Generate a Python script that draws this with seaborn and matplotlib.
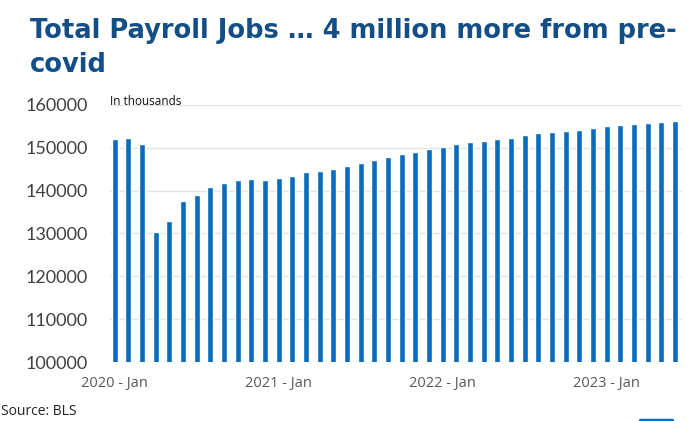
import matplotlib
matplotlib.use("Agg")
import matplotlib.pyplot as plt
import seaborn as sns
import pandas as pd
import numpy as np

years = [2020, 2021, 2022, 2023]
month_names = ["Jan", "Feb", "Mar", "Apr", "May", "Jun", "Jul", "Aug", "Sep", "Oct", "Nov", "Dec"]
months = [f"{y} - {m}" for y in years for m in month_names][:42]

jobs = [152030, 152260, 150930, 130370, 132940, 137540, 138940, 140720, 141660, 142450,
        142690, 142450, 142920, 143460, 144320, 144630, 145020, 145720, 146500, 147130,
        147760, 148550, 149070, 149700, 150070, 150930, 151400, 151640, 152030, 152340,
        152970, 153340, 153580, 153970, 154210, 154500, 154980, 155210, 155530, 155680,
        156000, 156150]

tick_labels = ["2020 - Jan", "2021 - Jan", "2022 - Jan", "2023 - Jan"]
y_ticks = [100000, 110000, 120000, 130000, 140000, 150000, 160000]

df = pd.DataFrame({"month": months, "jobs": jobs})

sns.set_theme(style="white")
plt.rcParams["font.family"] = ["Open Sans", "DejaVu Sans"]

fig = plt.figure(figsize=(7, 4.21), dpi=100)
ax = fig.add_axes([0.157, 0.140, 0.817, 0.611])

sns.barplot(data=df, x="month", y="jobs", color="#0A6CBC", width=0.44,
            saturation=1, ax=ax, zorder=3)

ax.set_ylim(100000, 160000)
ax.set_yticks(y_ticks)
ax.set_yticklabels([str(v) for v in y_ticks], fontsize=13, color="#404040",
                   family=["Lato", "DejaVu Sans"])
ax.set_xlim(-0.35, 41.5)
ax.set_xticks([months.index(t) for t in tick_labels])
ax.set_xticklabels(tick_labels, fontsize=10.5, color="#595959")
ax.tick_params(axis="both", length=0)
ax.xaxis.set_tick_params(pad=10)
ax.yaxis.set_tick_params(pad=16)
ax.set_xlabel("")
ax.set_ylabel("")
ax.grid(axis="y", color="#E3E3E3", linewidth=1, zorder=0)
for s in ax.spines.values():
    s.set_visible(False)

fig.text(0.043, 0.958, "Total Payroll Jobs \u2026 4 million more from pre-\ncovid",
         fontsize=18.5, fontweight="bold", color="#134F86", va="top", ha="left",
         linespacing=1.4, family=["DejaVu Sans"])
fig.text(0.157, 0.750, "In thousands", fontsize=8.5, color="#111111", ha="left", va="baseline")
fig.text(0.001, 0.004, "Source: BLS", fontsize=10, color="#222222", ha="left", va="bottom")
fig.add_artist(plt.Line2D([0.914, 0.96], [0.003, 0.003], color="#0A6CBC", linewidth=2.5))

fig.savefig("out.png", dpi=100)
